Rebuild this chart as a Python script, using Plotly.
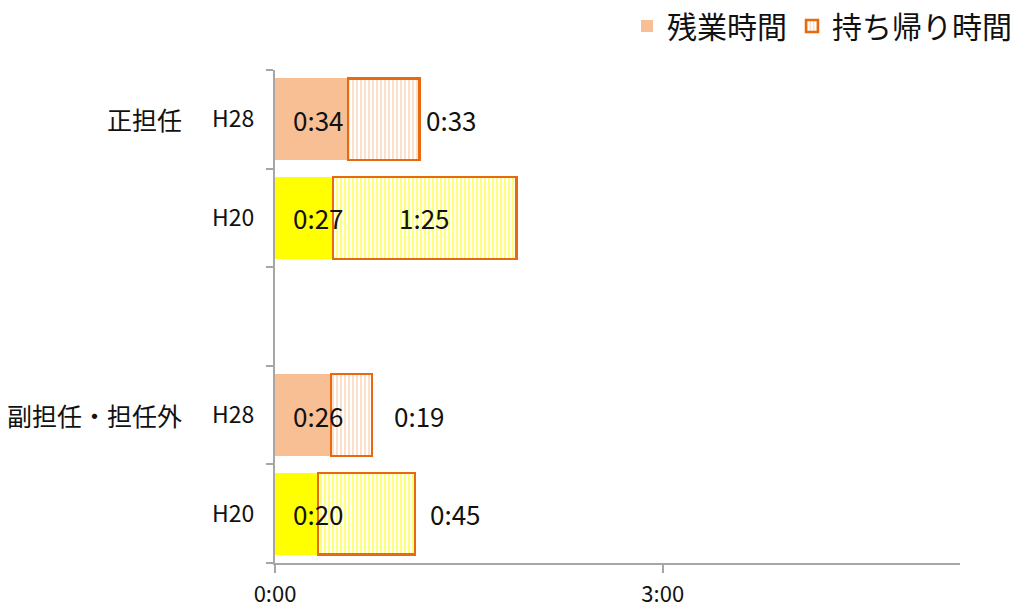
import plotly.graph_objects as go

# ---- data ----
categories = ["正担任|H28", "正担任|H20", " ", "副担任・担任外|H28", "副担任・担任外|H20"]
year_labels = ["H28", "H20", "", "H28", "H20"]
group_labels = ["正担任", "副担任・担任外"]
group_label_rows = ["正担任|H28", "副担任・担任外|H28"]
overtime_min = [34, 27, None, 26, 20]      # 残業時間 (minutes)
takehome_min = [33, 85, None, 19, 45]      # 持ち帰り時間 (minutes)
x_tick_vals = [0, 180]
x_tick_text = ["0:00", "3:00"]
x_max = 318

# ---- styles ----
overtime_colors = ["#F8BF94", "#FFFF00", "#FFFFFF", "#F8BF94", "#FFFF00"]
takehome_fg = ["#F8C29A", "#FFFF00", "#FFFFFF", "#F8C29A", "#FFFF00"]
takehome_solidity = [0.5, 0.55, 0.5, 0.5, 0.55]
outline = "#E8690F"
axis_grey = "#A6A6A6"
jp_font = "Noto Sans CJK JP"
text_color = "#111111"

# label placement (style): inside-base for first segment; second segment label mode & offset
second_label_mode = ["out", "mid", None, "out", "out"]
second_label_shift = [5, 0, 0, 20, 13]


def fmt(m):
    return f"{m // 60}:{m % 60:02d}"


fig = go.Figure()
fig.add_trace(go.Bar(
    y=categories, x=overtime_min, orientation="h", name="残業時間",
    marker=dict(color=overtime_colors, line=dict(width=0)),
    hoverinfo="skip",
))
fig.add_trace(go.Bar(
    y=categories, x=takehome_min, orientation="h", name="持ち帰り時間",
    marker=dict(
        color="#FFFFFF",
        line=dict(color=outline, width=2.5),
        pattern=dict(shape="|", fgcolor=takehome_fg, bgcolor="#FFFFFF",
                     size=4, solidity=takehome_solidity, fillmode="overlay"),
    ),
    hoverinfo="skip",
))

label_font = dict(family=jp_font, size=26, color=text_color)
annotations = []
for i, cat in enumerate(categories):
    a, b = overtime_min[i], takehome_min[i]
    if a is None:
        continue
    annotations.append(dict(x=0, y=cat, xref="x", yref="y", text=fmt(a),
                            showarrow=False, xanchor="left", xshift=16,
                            font=label_font))
    if second_label_mode[i] == "mid":
        annotations.append(dict(x=a + b / 2, y=cat, xref="x", yref="y", text=fmt(b),
                                showarrow=False, xanchor="center",
                                font=label_font))
    else:
        annotations.append(dict(x=a + b, y=cat, xref="x", yref="y", text=fmt(b),
                                showarrow=False, xanchor="left",
                                xshift=second_label_shift[i],
                                font=label_font))

for g, row in zip(group_labels, group_label_rows):
    annotations.append(dict(x=0, y=row, xref="paper", yref="y", text=g,
                            showarrow=False, xanchor="right", xshift=-91,
                            font=dict(family=jp_font, size=25, color=text_color)))

fig.update_layout(
    width=1017, height=610,
    barmode="stack", bargap=0.17,
    plot_bgcolor="white", paper_bgcolor="white",
    margin=dict(l=275, r=57, t=70, b=47, autoexpand=False),
    showlegend=True,
    legend=dict(orientation="h", x=1.0, xanchor="right", xref="container",
                y=1.0, yanchor="top", yref="container",
                font=dict(family=jp_font, size=30, color=text_color),
                traceorder="normal", itemwidth=30),
    annotations=annotations,
    xaxis=dict(range=[0, x_max], tickvals=x_tick_vals, ticktext=x_tick_text,
               showline=True, linecolor=axis_grey, linewidth=2,
               ticks="outside", ticklen=8, tickcolor=axis_grey, tickwidth=2,
               showgrid=False, zeroline=False, ticklabelstandoff=3,
               tickfont=dict(family=jp_font, size=22, color=text_color)),
    yaxis=dict(type="category", categoryorder="array", categoryarray=categories,
               autorange="reversed", tickvals=categories, ticktext=year_labels,
               tickson="boundaries", ticks="outside", ticklen=7,
               tickcolor=axis_grey, tickwidth=2,
               showline=True, linecolor=axis_grey, linewidth=2,
               showgrid=False, zeroline=False, ticklabelstandoff=14,
               tickfont=dict(family=jp_font, size=23, color=text_color)),
)

fig.write_html("out.html", config={"displayModeBar": False},
               post_script="document.body.style.margin='0';document.body.style.padding='0';")
